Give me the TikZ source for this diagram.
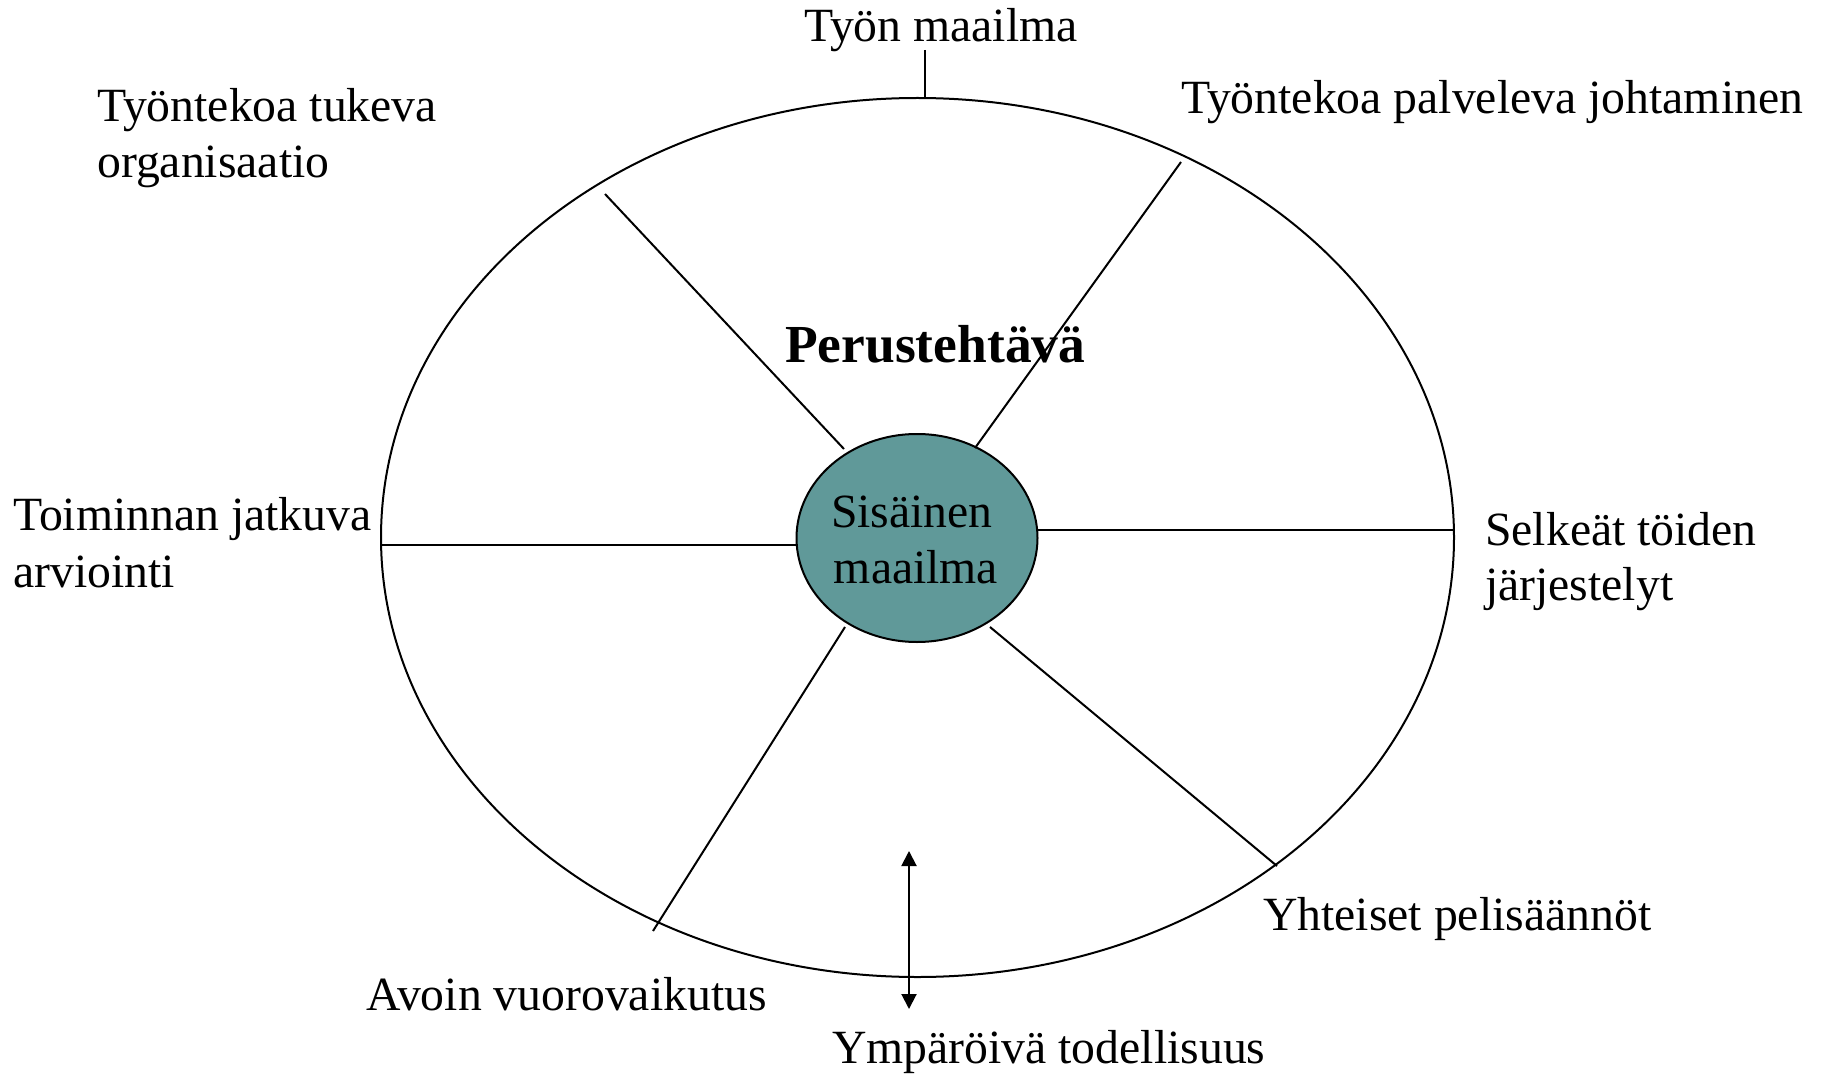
\documentclass[tikz,border=0pt]{standalone}
\usepackage{fontspec}
\setmainfont{Liberation Serif}
\usetikzlibrary{shapes.geometric,arrows.meta}
\definecolor{innerteal}{RGB}{96,153,153}
\begin{document}
\begin{tikzpicture}[x=1pt,y=-1pt,
  lbl/.style={anchor=base west,inner sep=0pt,font=\fontsize{47.7}{56}\selectfont},
  ln/.style={line width=2pt,black},
  ringshape/.style={draw,ellipse,line width=2pt,inner sep=0pt}]
\useasboundingbox (0,0) rectangle (1828,1075);
% ellipses
\node[ringshape,minimum width=1073pt,minimum height=879pt] (outer) at (917.5,537.5) {};
\node[ringshape,fill=innerteal,minimum width=241pt,minimum height=208pt] (inner) at (917,538) {};
% spoke end points
\coordinate (ulA) at (605,194);  \coordinate (ulB) at (844,449);
\coordinate (urA) at (1181,162); \coordinate (urB) at (975,448);
\coordinate (rA)  at (1036,530); \coordinate (rB)  at (1454,530);
\coordinate (lA)  at (381,545);  \coordinate (lB)  at (797,545);
\coordinate (llA) at (845,627);  \coordinate (llB) at (653,931);
\coordinate (lrA) at (990,627);  \coordinate (lrB) at (1277,866);
\coordinate (tickA) at (925,50); \coordinate (tickB) at (925,98);
\coordinate (arrA) at (909,851); \coordinate (arrB) at (909,1009);
\draw[ln] (ulA) -- (ulB);
\draw[ln] (urA) -- (urB);
\draw[ln] (rA) -- (rB);
\draw[ln] (lA) -- (lB);
\draw[ln] (llA) -- (llB);
\draw[ln] (lrA) -- (lrB);
\draw[ln] (tickA) -- (tickB);
\draw[ln,{Triangle[length=15pt,width=15pt]}-{Triangle[length=15pt,width=15pt]}] (arrA) -- (arrB);
% labels
\node[lbl] (tyon) at (804,42) {Työn maailma};
\node[lbl] (tukeva1) at (97,122) {Työntekoa tukeva};
\node[lbl] (tukeva2) at (97,178) {organisaatio};
\node[lbl] (palv) at (1181,114) {Työntekoa palveleva johtaminen};
\node[lbl] (toim1) at (13,530) {Toiminnan jatkuva};
\node[lbl] (toim2) at (13,587) {arviointi};
\node[lbl] (selk1) at (1485,545) {Selkeät töiden};
\node[lbl] (selk2) at (1485,600) {järjestelyt};
\node[lbl] (yht) at (1263,930) {Yhteiset pelisäännöt};
\node[lbl] (avoin) at (366,1010) {Avoin vuorovaikutus};
\node[lbl] (ymp) at (832,1063) {Ympäröivä todellisuus};
\node[anchor=base west,inner sep=0pt,font=\fontsize{53.5}{60}\selectfont\bfseries] (perus) at (785,362) {Perustehtävä};
\node[anchor=base,inner sep=0pt,font=\fontsize{47.7}{56}\selectfont] (sis1) at (912,527) {Sisäinen};
\node[anchor=base,inner sep=0pt,font=\fontsize{47.7}{56}\selectfont] (sis2) at (916,583) {maailma};
\end{tikzpicture}
\end{document}
